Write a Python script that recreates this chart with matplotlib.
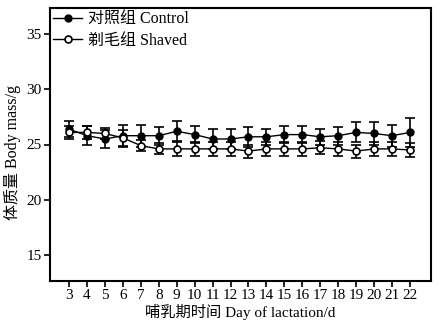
import matplotlib
matplotlib.use("Agg")
import matplotlib.pyplot as plt
from matplotlib.lines import Line2D

plt.rcParams['font.family'] = ['Liberation Serif', 'Noto Sans CJK SC']

days = list(range(3, 23))

control = [26.4, 25.8, 25.5, 25.8, 25.8, 25.8, 26.2, 25.9, 25.5, 25.5,
           25.7, 25.7, 25.9, 25.9, 25.7, 25.8, 26.1, 26.0, 25.8, 26.1]
control_err = [0.75, 0.85, 0.8, 1.0, 1.0, 0.8, 0.9, 0.8, 0.9, 0.9,
               0.9, 0.7, 0.8, 0.8, 0.7, 0.8, 0.9, 1.0, 1.0, 1.3]

shaved = [26.1, 26.1, 26.0, 25.6, 24.9, 24.6, 24.6, 24.6, 24.6, 24.6,
          24.4, 24.6, 24.6, 24.6, 24.7, 24.6, 24.4, 24.6, 24.6, 24.5]
shaved_err = [0.6, 0.6, 0.5, 0.7, 0.5, 0.5, 0.6, 0.6, 0.6, 0.6,
              0.6, 0.6, 0.6, 0.6, 0.6, 0.6, 0.6, 0.6, 0.6, 0.6]

yticks = [15, 20, 25, 30, 35]

fig = plt.figure(figsize=(4.41, 3.27), dpi=100)
ax = fig.add_axes([50 / 441, 46 / 327, 381 / 441, 273 / 327])

ax.errorbar(days, control, yerr=control_err, fmt="o-", color="black",
            mfc="black", mec="black", ms=5, lw=1, elinewidth=1.2, capsize=3.5,
            capthick=1.2)
ax.errorbar(days, shaved, yerr=shaved_err, fmt="o-", color="black",
            mfc="white", mec="black", mew=1.2, ms=5, lw=1, elinewidth=1.2,
            capsize=3.5, capthick=1.2)

ax.set_xlim(1.94, 23.17)
ax.set_ylim(12.6, 37.4)
ax.set_xticks(days)
ax.set_yticks(yticks)
ax.tick_params(direction="out", length=4, width=1.2, labelsize=11, pad=2,
               top=False, right=False)
for s in ax.spines.values():
    s.set_linewidth(1.5)

ax.set_xlabel("哺乳期时间 Day of lactation/d", fontsize=11, labelpad=1)
ax.set_ylabel("体质量 Body mass/g", fontsize=11.5)
ax.yaxis.set_label_coords(-0.075, 0.47)

handles = [
    Line2D([], [], color="black", marker="o", mfc="black", ms=5, lw=1),
    Line2D([], [], color="black", marker="o", mfc="white", mew=1.2, ms=5, lw=1),
]
ax.legend(handles, ["对照组 Control", "剃毛组 Shaved"], loc="upper left",
          frameon=False, fontsize=11.5, handlelength=1.8, handletextpad=0.4,
          borderaxespad=0.1, labelspacing=0.35, borderpad=0.1)

fig.savefig("out.png", dpi=100)
